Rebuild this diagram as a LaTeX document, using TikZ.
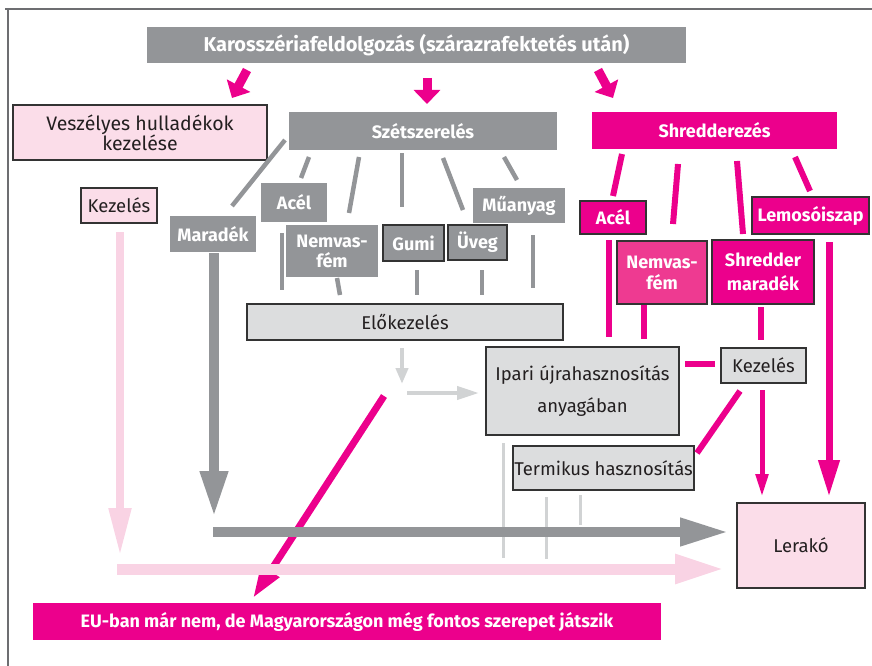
\documentclass[tikz,border=0pt]{standalone}
\usepackage{fontspec}
\setmainfont{Fira Sans}
\usetikzlibrary{arrows.meta}
\definecolor{mag}{HTML}{EC008C}
\definecolor{magl}{HTML}{EE3A91}
\definecolor{grayc}{HTML}{939598}
\definecolor{lgray}{HTML}{DCDDDE}
\definecolor{lline}{HTML}{D1D3D4}
\definecolor{pinkc}{HTML}{FBDDE9}
\definecolor{pinka}{HTML}{F9D3E4}
\definecolor{bordc}{HTML}{333333}
\definecolor{framec}{HTML}{6D6E71}
\definecolor{txt}{HTML}{231F20}
\tikzset{
  wfont/.style={font=\bfseries\fontsize{18}{21}\selectfont, text=white},
  gbox/.style={wfont, fill=grayc, inner sep=0pt, align=center},
  mbox/.style={wfont, fill=mag, inner sep=0pt, align=center},
  bord/.style={draw=bordc, line width=1.2pt},
  lbox/.style={fill=lgray, bord, text=txt, inner sep=0pt, align=center, font=\fontsize{18.5}{21}\selectfont},
  pbox/.style={fill=pinkc, bord, text=txt, inner sep=0pt, align=center, font=\fontsize{18.5}{21}\selectfont},
  gline/.style={draw=grayc, line width=4.5pt},
  mline/.style={draw=mag, line width=6pt},
  lgline/.style={draw=lline, line width=3pt},
}
\begin{document}
\begin{tikzpicture}[x=1pt,y=-1pt]
\useasboundingbox (0,0) rectangle (872,666);
% frame
\coordinate (f1) at (5,9.5); \coordinate (f2) at (872,9.5);
\coordinate (f3) at (7.5,9); \coordinate (f4) at (7.5,666);
\draw[framec, line width=2pt] (f1) -- (f2);
\draw[framec, line width=2pt] (f3) -- (f4);

% boxes
\node[gbox, minimum width=539pt, minimum height=36pt, font=\bfseries\fontsize{20}{22}\selectfont] (top) at (416.5,45) {Karosszériafeldolgozás (szárazrafektetés után)};
\node[pbox, minimum width=254pt, minimum height=55pt, font=\fontsize{19.5}{20}\selectfont] (vesz) at (140,132.5) {Veszélyes hulladékok\\kezelése};
\node[gbox, minimum width=268pt, minimum height=38pt] (szet) at (423,131) {Szétszerelés};
\node[mbox, minimum width=245pt, minimum height=37pt] (shred) at (714.5,130.5) {Shredderezés};
\node[pbox, minimum width=76pt, minimum height=35pt] (kezL) at (119,205.5) {Kezelés};
\node[gbox, minimum width=86pt, minimum height=36pt] (marad) at (213,234) {Maradék};
\node[gbox, minimum width=66pt, minimum height=39pt] (acelG) at (294,202.5) {Acél};
\node[gbox, minimum width=92pt, minimum height=52pt, font=\bfseries\fontsize{18}{20}\selectfont] (nemG) at (332,251) {Nemvas-\\fém};
\node[gbox, bord, minimum width=61pt, minimum height=36pt] (gumi) at (413.5,243) {Gumi};
\node[gbox, bord, minimum width=59pt, minimum height=35pt] (uveg) at (477.5,242.5) {Üveg};
\node[gbox, minimum width=92pt, minimum height=35pt] (muany) at (519,205.5) {Műanyag};
\node[lbox, minimum width=316pt, minimum height=36pt] (elo) at (405,322) {Előkezelés};
\node[lbox, minimum width=193pt, minimum height=88pt, font=\fontsize{18.5}{32}\selectfont] (ipari) at (582.5,391) {Ipari újrahasznosítás\\anyagában};
\node[lbox, minimum width=181pt, minimum height=44pt] (termik) at (603.5,468) {Termikus hasznosítás};
\node[lbox, minimum width=85pt, minimum height=35pt] (kezR) at (763.5,365.5) {Kezelés};
\node[mbox, bord, minimum width=66pt, minimum height=33pt] (acelM) at (613,217.5) {Acél};
\node[mbox, bord, fill=magl, minimum width=90pt, minimum height=63pt] (nemM) at (662,272.5) {Nemvas-\\fém};
\node[mbox, bord, minimum width=102pt, minimum height=64pt, font=\bfseries\fontsize{18}{24}\selectfont] (smar) at (763,272) {Shredder\\maradék};
\node[mbox, bord, minimum width=117pt, minimum height=37pt] (lemo) at (810.5,215.5) {Lemosóiszap};
\node[pbox, minimum width=128pt, minimum height=85pt] (lerako) at (801,545.5) {Lerakó};
\node[mbox, minimum width=628pt, minimum height=37pt] (eu) at (347,621.5) {EU-ban már nem, de Magyarországon még fontos szerepet játszik};

% top arrows
\coordinate (ta1) at (247,70); \coordinate (tb1) at (232,98);
\coordinate (ta2) at (427,78); \coordinate (tb2) at (427,104);
\coordinate (ta3) at (598,70); \coordinate (tb3) at (613,98);
\foreach \a/\b in {ta1/tb1,ta2/tb2,ta3/tb3}
  \draw[mag, line width=9pt, -{Triangle[width=26pt,length=14pt]}] (\a) -- (\b);

% gray lines from Szetszereles
\coordinate (g1a) at (285,140); \coordinate (g1b) at (232,206);
\coordinate (g2a) at (309,157); \coordinate (g2b) at (301,178);
\coordinate (g3a) at (359,157); \coordinate (g3b) at (349,213);
\coordinate (g4a) at (402,153); \coordinate (g4b) at (402,207);
\coordinate (g5a) at (443,158); \coordinate (g5b) at (463,210);
\coordinate (g6a) at (504,157); \coordinate (g6b) at (517,180);
\coordinate (h1a) at (282,233); \coordinate (h1b) at (282,290);
\coordinate (h2a) at (337,278); \coordinate (h2b) at (340,295);
\coordinate (h3a) at (417,270); \coordinate (h3b) at (417,295);
\coordinate (h4a) at (482,270); \coordinate (h4b) at (482,295);
\coordinate (h5a) at (533,235); \coordinate (h5b) at (533,288);
\foreach \a/\b in {g1a/g1b,g2a/g2b,g3a/g3b,g4a/g4b,g5a/g5b,g6a/g6b,h1a/h1b,h2a/h2b,h3a/h3b,h4a/h4b,h5a/h5b}
  \draw[gline] (\a) -- (\b);

% light gray arrows and lines
\coordinate (la1) at (402,348); \coordinate (lb1) at (402,384);
\coordinate (la2) at (407,393); \coordinate (lb2) at (479,393);
\draw[lline, line width=4pt, -{Triangle[width=12pt,length=16pt]}] (la1) -- (lb1);
\draw[lline, line width=4pt, -{Triangle[width=13pt,length=22pt]}] (la2) -- (lb2);
\coordinate (l1a) at (503,443); \coordinate (l1b) at (503,558);
\coordinate (l2a) at (546,497); \coordinate (l2b) at (546,559);
\coordinate (l3a) at (580,495); \coordinate (l3b) at (580,525);
\foreach \a/\b in {l1a/l1b,l2a/l2b,l3a/l3b}
  \draw[lgline] (\a) -- (\b);

% magenta lines
\coordinate (m1a) at (622,154); \coordinate (m1b) at (613,196);
\coordinate (m2a) at (678,164); \coordinate (m2b) at (673,224);
\coordinate (m3a) at (737,161); \coordinate (m3b) at (743,234);
\coordinate (m4a) at (795,157); \coordinate (m4b) at (810,191);
\coordinate (m5a) at (609,240); \coordinate (m5b) at (609,337);
\coordinate (m6a) at (644,305); \coordinate (m6b) at (644,339);
\coordinate (m7a) at (761,307); \coordinate (m7b) at (761,340);
\coordinate (m8a) at (685,364); \coordinate (m8b) at (715,364);
\coordinate (m9a) at (740,391); \coordinate (m9b) at (697,453);
\foreach \a/\b in {m1a/m1b,m2a/m2b,m3a/m3b,m4a/m4b,m5a/m5b,m6a/m6b,m7a/m7b,m8a/m8b,m9a/m9b}
  \draw[mline] (\a) -- (\b);

% magenta arrows
\coordinate (ma1) at (384,396); \coordinate (mb1) at (253,598);
\draw[mag, line width=7pt, -{Triangle[width=20pt,length=32pt]}] (ma1) -- (mb1);
\coordinate (ma2) at (829,242); \coordinate (mb2) at (829,497);
\draw[mag, line width=7pt, -{Triangle[width=20pt,length=37pt]}] (ma2) -- (mb2);
\coordinate (ma3) at (762,390); \coordinate (mb3) at (762,497);
\draw[mag, line width=5pt, -{Triangle[width=12pt,length=23pt]}] (ma3) -- (mb3);

% big gray arrows
\coordinate (ga1) at (214,253); \coordinate (gb1) at (214,517);
\draw[grayc, line width=10pt, -{Triangle[width=26pt,length=46pt]}] (ga1) -- (gb1);
\coordinate (ga2) at (213,532); \coordinate (gb2) at (729,532);
\draw[grayc, line width=10pt, -{Triangle[width=26pt,length=49pt]}] (ga2) -- (gb2);

% pink arrows
\coordinate (pa1) at (120,232); \coordinate (pb1) at (120,556);
\draw[pinka, line width=8pt, -{Triangle[width=21pt,length=48pt]}] (pa1) -- (pb1);
\coordinate (pa2) at (117,569); \coordinate (pb2) at (725,569);
\draw[pinka, line width=11pt, -{Triangle[width=27pt,length=50pt]}] (pa2) -- (pb2);
\end{tikzpicture}
\end{document}
